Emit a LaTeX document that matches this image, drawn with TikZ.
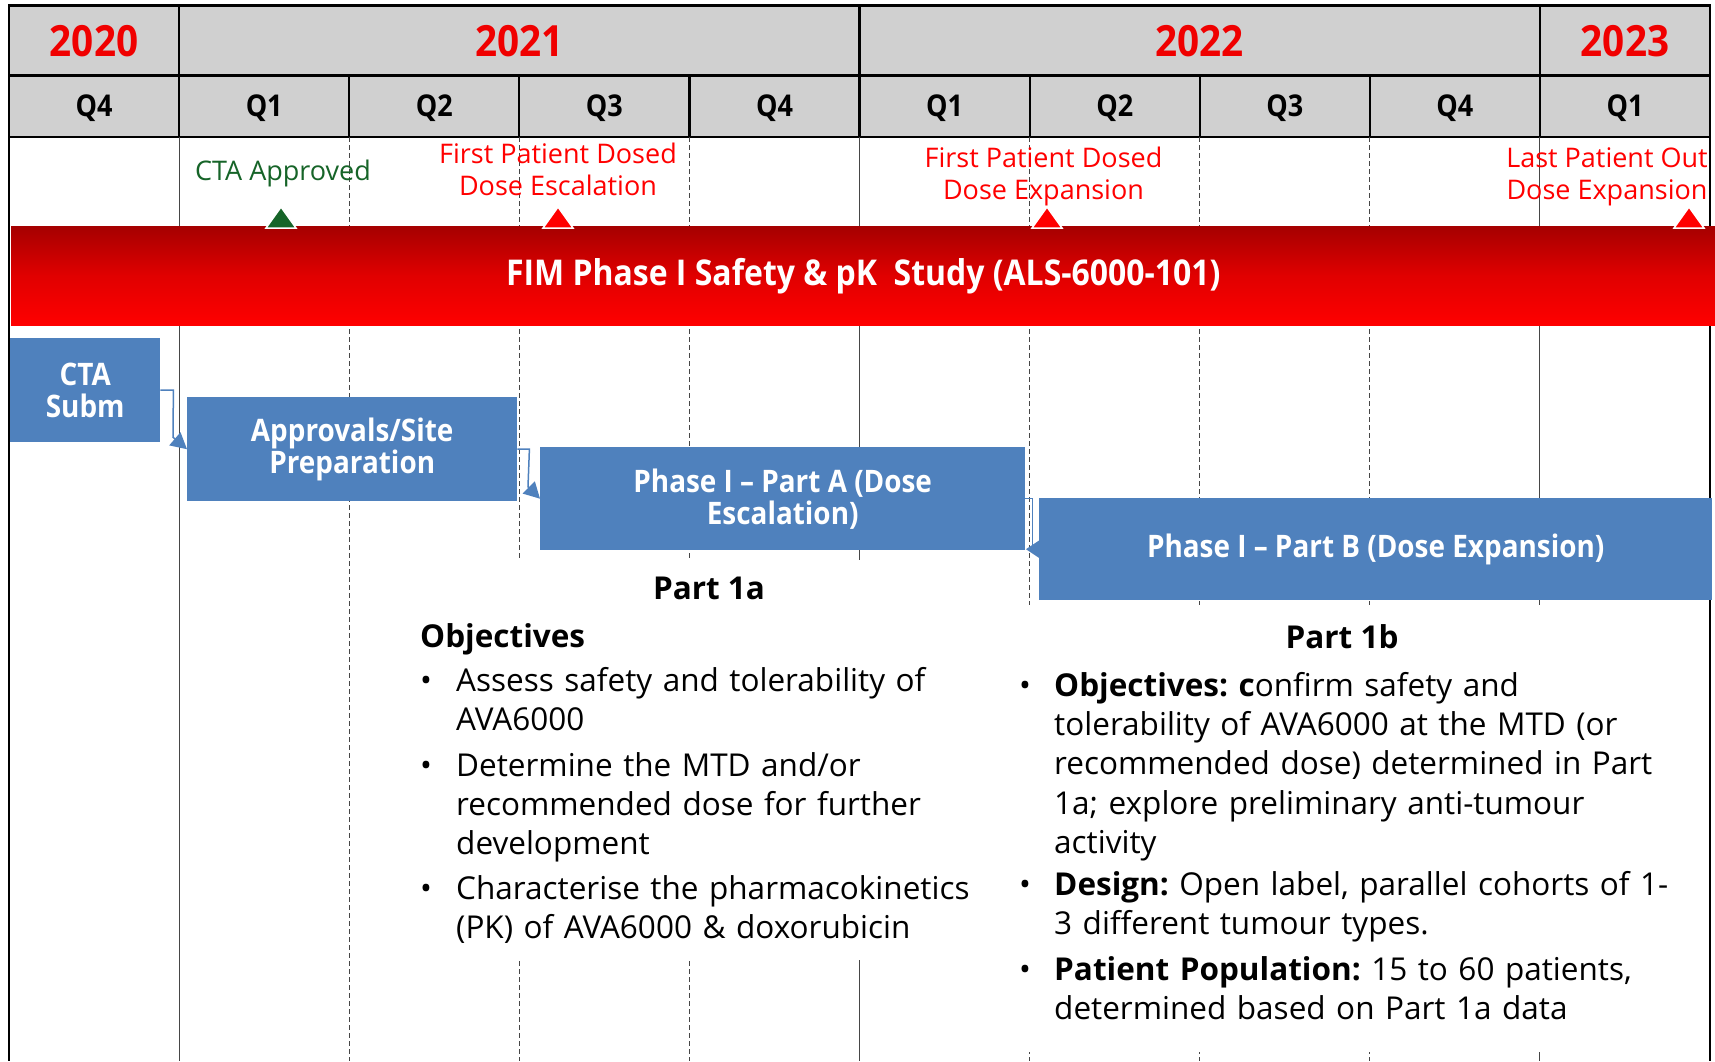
\documentclass[tikz,border=0pt]{standalone}
\usepackage{fontspec}
\setmainfont{Open Sans}
\newfontfamily\narrow{Open Sans}[FakeStretch=0.9,Ligatures=TeX]
\usetikzlibrary{arrows.meta}

\definecolor{hdrgray}{RGB}{208,208,208}
\definecolor{yearred}{RGB}{240,0,0}
\definecolor{msred}{RGB}{255,0,0}
\definecolor{msgreen}{RGB}{22,100,40}
\definecolor{boxblue}{RGB}{79,129,189}
\definecolor{gridline}{RGB}{70,70,70}
\definecolor{bardark}{RGB}{165,0,0}

\begin{document}
\begin{tikzpicture}[x=1pt,y=-1pt,
  yearlbl/.style={text=yearred, font=\narrow\bfseries\fontsize{43}{45}\selectfont},
  qlbl/.style={font=\narrow\bfseries\fontsize{30}{32}\selectfont},
  gridsolid/.style={gridline, line width=1pt},
  griddash/.style={gridline, line width=1pt, dash pattern=on 5pt off 3pt},
  task/.style={fill=boxblue, text=white, inner sep=0, anchor=north west, align=center,
    font=\narrow\bfseries\fontsize{31}{32}\selectfont},
  link/.style={boxblue, line width=1.5pt, -{Triangle[length=16pt,width=17pt]}},
  backlink/.style={boxblue, line width=1.5pt, -{Triangle[reversed,length=13pt,width=17pt]}},
  msnote/.style={align=center, font=\fontsize{27}{32}\selectfont},
  mstri/.style={draw=white, line width=1.5pt},
  blank/.style={fill=white, inner sep=0, anchor=north west},
  para/.style={inner sep=0, anchor=base west, align=left, text width=#1,
    font=\fontsize{31.5}{39.4}\selectfont},
  para/.default=600,
  dot/.style={inner sep=0, anchor=base west, font=\fontsize{31.5}{39.4}\selectfont},
  heading/.style={inner sep=0, font=\bfseries\fontsize{31.5}{39.4}\selectfont}]

\useasboundingbox (0,0) rectangle (1715,1061);
\fill[white] (0,0) rectangle (1715,1061);

% ---- header: years and quarters ----
\fill[hdrgray] (9,5.5) rectangle (1710,137);
\foreach \x in {349.2,519.3,689.4,1029.6,1199.7,1369.8}
  \draw[line width=2.2pt] (\x,75.5) -- (\x,137);
\foreach \x in {179.1,859.5,1539.9}
  \draw[line width=2.2pt] (\x,5.5) -- (\x,137);
\draw[line width=2.2pt] (9,75.5) -- (1710,75.5);
\draw[line width=2.5pt] (9,5.5) rectangle (1710,137);

\node[yearlbl] (y2020) at (94,41.5) {2020};
\node[yearlbl] (y2021) at (519.3,41.5) {2021};
\node[yearlbl] (y2022) at (1199.7,41.5) {2022};
\node[yearlbl] (y2023) at (1625,41.5) {2023};

\foreach \q/\c [count=\i] in {Q4/94,Q1/264.2,Q2/434.3,Q3/604.4,Q4/774.5,
                              Q1/944.6,Q2/1114.7,Q3/1284.8,Q4/1454.9,Q1/1625}
  \node[qlbl] (q\i) at (\c,108) {\q};

% ---- grid below the header ----
\foreach \x in {179.1,859.5,1539.9}
  \draw[gridsolid] (\x,137) -- (\x,1061);
\foreach \x in {349.2,519.3,689.4,1029.6,1199.7,1369.8}
  \draw[griddash] (\x,137) -- (\x,1061);
\draw[line width=2pt] (9,137) -- (9,1061);
\draw[line width=2pt] (1710,137) -- (1710,1061);

% text panels sit on white
\node[blank, minimum width=580, minimum height=400] (panela) at (410,560) {};
\node[blank, minimum width=555, minimum height=447] (panelb) at (1005,605) {};

% ---- study bar ----
\node[anchor=north west, inner sep=0, minimum width=1704, minimum height=99,
      top color=bardark, bottom color=red, middle color=red!88!black,
      text=white, font=\narrow\bfseries\fontsize{35.5}{36}\selectfont]
  (study) at (11,226) {FIM Phase I Safety \& pK~ Study (ALS-6000-101)};

% ---- milestones ----
\coordinate (m1) at (281,228);
\coordinate (m2) at (558,228);
\coordinate (m3) at (1047,228);
\coordinate (m4) at (1689,228);
\filldraw[mstri, fill=msgreen] (m1) ++(-15,0) -- ++(30,0) -- ++(-15,-21) -- cycle;
\foreach \m in {m2,m3,m4}
  \filldraw[mstri, fill=msred] (\m) ++(-15,0) -- ++(30,0) -- ++(-15,-21) -- cycle;

\node[msnote, text=msgreen] (ms1) at (283,173) {CTA Approved};
\node[msnote, text=msred, anchor=base] (ms2) at (558,195) {First Patient Dosed\\Dose Escalation};
\node[msnote, text=msred, anchor=base] (ms3) at (1043.5,199) {First Patient Dosed\\Dose Expansion};
\node[msnote, text=msred, anchor=base] (ms4) at (1607,199) {Last Patient Out\\Dose Expansion};

% ---- activities ----
\node[task, minimum width=150, minimum height=104] (cta) at (10,338) {CTA\\Subm};
\node[task, minimum width=330, minimum height=104] (appr) at (187,397) {Approvals/Site\\Preparation};
\node[task, minimum width=485, minimum height=103] (parta) at (540,447) {Phase I – Part A (Dose\\Escalation)};
\node[task, minimum width=673, minimum height=102] (partb) at (1039,498) {Phase I – Part B (Dose Expansion)};

% elbow connectors between consecutive activities
\draw[link] (cta.east) -- ++(13,0) -- ([shift={(-14,-12)}]appr.west) -- (appr.west);
\draw[link] (appr.east) -- ++(12,0) -- ([shift={(-12,-12)}]parta.west) -- (parta.west);
\draw[backlink] (parta.east) -- ++(7,0) |- (partb.west);

% ---- Part 1a ----
\node[heading, anchor=base] (h1a) at (709,599) {Part 1a};
\node[heading, anchor=base west] (obj1a) at (420,647) {Objectives};
\node[dot] (d1) at (420,691) {•};
\node[para] (a1) at (456,691) {Assess safety and tolerability of\\AVA6000};
\node[dot] (d2) at (420,776) {•};
\node[para] (a2) at (456,776) {Determine the MTD and/or\\recommended dose for further\\development};
\node[dot] (d3) at (420,899) {•};
\node[para] (a3) at (456,899) {Characterise the pharmacokinetics\\(PK) of AVA6000 \& doxorubicin};

% ---- Part 1b ----
\node[heading, anchor=base] (h1b) at (1342,648) {Part 1b};
\node[dot] (d4) at (1019,696) {•};
\node[para=660] (b1) at (1054,696) {\textbf{Objectives:~c}onfirm safety and\\tolerability of AVA6000 at the MTD (or\\recommended dose) determined in Part\\1a; explore preliminary anti-tumour\\activity};
\node[dot] (d5) at (1019,895) {•};
\node[para=660] (b2) at (1054,895) {\textbf{Design:}~Open label, parallel cohorts of 1-\\3 different tumour types.};
\node[dot] (d6) at (1019,980) {•};
\node[para=660] (b3) at (1054,980) {\textbf{Patient Population:}~15 to 60 patients,\\determined based on Part 1a data};
\end{tikzpicture}
\end{document}
